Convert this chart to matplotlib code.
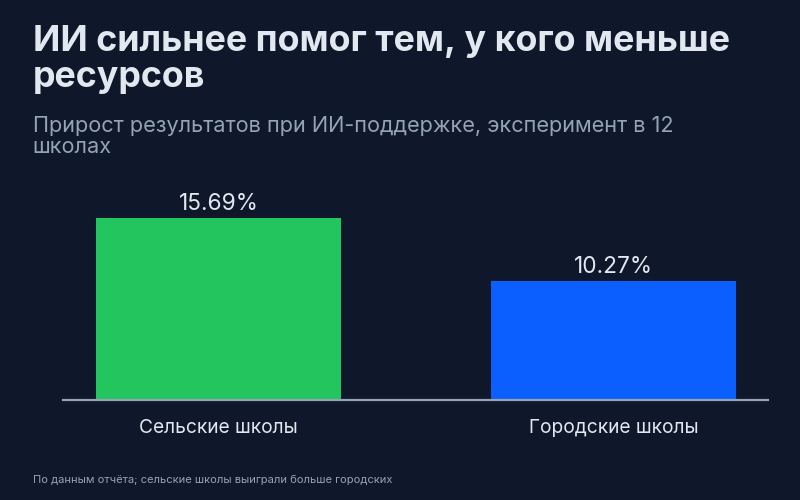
import matplotlib
matplotlib.use("Agg")
import matplotlib.pyplot as plt

categories = ["Сельские школы", "Городские школы"]
values = [15.69, 10.27]
bar_colors = ["#22c55e", "#0b5fff"]

title = "ИИ сильнее помог тем, у кого меньше\nресурсов"
subtitle = "Прирост результатов при ИИ-поддержке, эксперимент в 12\nшколах"
footnote = "По данным отчёта; сельские школы выиграли больше городских"

bg = "#0f172a"
plt.rcParams["font.family"] = ["Inter", "DejaVu Sans"]

fig = plt.figure(figsize=(8, 5), dpi=100, facecolor=bg)
ax = fig.add_axes([0.07875, 0.2, 0.88125, 0.42])
ax.set_facecolor(bg)

x = list(range(len(categories)))
bars = ax.bar(x, values, width=0.62, color=bar_colors, zorder=2)

# value labels on top of bars
for b, v in zip(bars, values):
    ax.annotate("{:.2f}%".format(v), (b.get_x() + b.get_width() / 2, b.get_height()),
                xytext=(0, 2), textcoords="offset points",
                ha="center", va="bottom", fontsize=16.3, color="#e2e8f0")

ax.set_xlim(-0.394, 1.391)
ax.set_ylim(0, max(values) * 1.155)
ax.set_xticks(x)
ax.set_xticklabels(categories, fontsize=13.8, color="#e2e8f0")
ax.tick_params(axis="x", length=0, pad=13.5)
ax.set_yticks([])
for s in ["top", "right", "left"]:
    ax.spines[s].set_visible(False)
ax.spines["bottom"].set_color("#94a3b8")
ax.spines["bottom"].set_linewidth(1.6)
ax.spines["bottom"].set_zorder(3)

fig.text(0.041, 0.95, title, fontsize=25.8, fontweight="bold", color="#e2e8f0",
         ha="left", va="top", linespacing=1.12)
fig.text(0.041, 0.768, subtitle, fontsize=15.6, color="#94a3b8",
         ha="left", va="top", linespacing=1.08)
fig.text(0.041, 0.04, footnote, fontsize=8, color="#94a3b8", ha="left", va="center")

fig.savefig("out.png", dpi=100, facecolor=bg)
